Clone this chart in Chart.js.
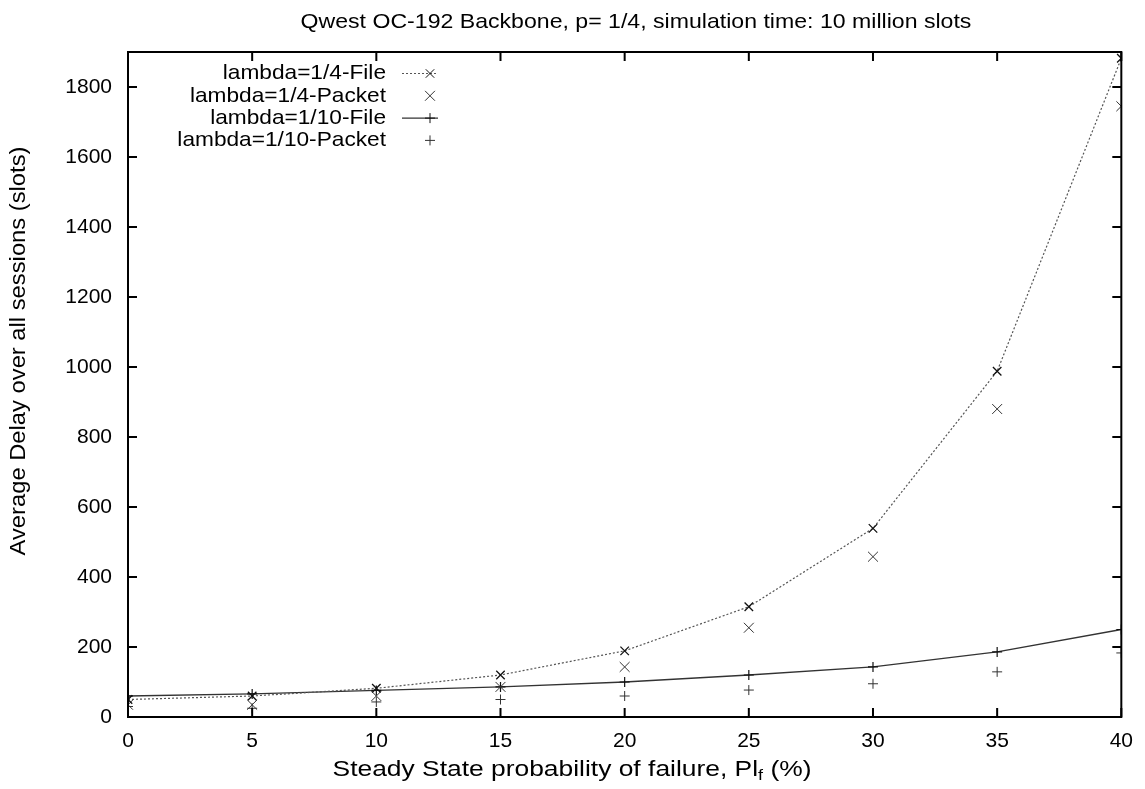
<!DOCTYPE html>
<html>
<head>
<meta charset="utf-8">
<script src="https://cdn.jsdelivr.net/npm/chart.js@4/dist/chart.umd.min.js"></script>
<style>
  html, body { margin: 0; padding: 0; background: #fff; }
  #wrap { width: 1145px; height: 789px; }
</style>
</head>
<body>
<div id="wrap"><canvas id="delayChart" width="1145" height="789"></canvas></div>
<script>
// failure probability (%) on x axis
const failureProb = [0, 5, 10, 15, 20, 25, 30, 35, 40];

// average delay (slots)
const quarterFile = [50, 60, 82, 120, 189, 315, 539, 988, 1882];
const quarterPacket = [35, 35, 60, 86, 143, 255, 458, 880, 1745];
const tenthFile = [60, 66, 76, 86, 100, 120, 143, 186, 250];
const tenthPacket = [30, 25, 43, 50, 60, 77, 95, 129, 183];

const seriesNames = ['lambda=1/4-File', 'lambda=1/4-Packet', 'lambda=1/10-File', 'lambda=1/10-Packet'];
const xTicks = [0, 5, 10, 15, 20, 25, 30, 35, 40];
const yTicks = [0, 200, 400, 600, 800, 1000, 1200, 1400, 1600, 1800];

const FONT = '"Liberation Sans", Arial, Helvetica, sans-serif';

function toPoints(values) {
    return failureProb.map((x, i) => ({ x: x, y: values[i] }));
}

// text stretched a little, the scan is a bit wider than Liberation
function wideText(ctx, text, x, y, stretch) {
    ctx.save();
    ctx.translate(x, y);
    ctx.scale(stretch, 1);
    ctx.fillText(text, 0, 0);
    ctx.restore();
}

// frame, inward ticks, titles and legend, like the gnuplot original
const framePlugin = {
    id: 'frame',
    afterDraw(chart) {
        const ctx = chart.ctx;
        const area = chart.chartArea;
        const xs = chart.scales.x;
        const ys = chart.scales.y;
        ctx.save();

        // box
        ctx.strokeStyle = '#000';
        ctx.lineWidth = 2;
        ctx.strokeRect(area.left, area.top, area.right - area.left, area.bottom - area.top);

        // ticks on all four sides
        const tl = 9;
        ctx.beginPath();
        xTicks.forEach(v => {
            const px = xs.getPixelForValue(v);
            ctx.moveTo(px, area.bottom); ctx.lineTo(px, area.bottom - tl);
            ctx.moveTo(px, area.top); ctx.lineTo(px, area.top + tl);
        });
        yTicks.forEach(v => {
            const py = ys.getPixelForValue(v);
            ctx.moveTo(area.left, py); ctx.lineTo(area.left + tl, py);
            ctx.moveTo(area.right, py); ctx.lineTo(area.right - tl, py);
        });
        ctx.stroke();

        // chart title
        ctx.fillStyle = '#000';
        ctx.font = '21px ' + FONT;
        ctx.textAlign = 'center';
        ctx.textBaseline = 'middle';
        wideText(ctx, 'Qwest OC-192 Backbone, p= 1/4, simulation time: 10 million slots', 636, 22, 1.1);

        // x axis title with subscript f
        const st = 1.2;
        const part1 = 'Steady State probability of failure, Pl';
        const part3 = ' (%)';
        ctx.font = '22px ' + FONT;
        const w1 = ctx.measureText(part1).width * st;
        const w3 = ctx.measureText(part3).width * st;
        ctx.font = '15px ' + FONT;
        const w2 = ctx.measureText('f').width * st;
        const sx = 572 - (w1 + w2 + w3) / 2;
        ctx.textAlign = 'left';
        ctx.font = '22px ' + FONT;
        wideText(ctx, part1, sx, 770, st);
        ctx.font = '15px ' + FONT;
        wideText(ctx, 'f', sx + w1, 776, st);
        ctx.font = '22px ' + FONT;
        wideText(ctx, part3, sx + w1 + w2, 770, st);

        // y axis title
        ctx.save();
        ctx.translate(19, 351);
        ctx.rotate(-Math.PI / 2);
        ctx.textAlign = 'center';
        ctx.font = '22px ' + FONT;
        wideText(ctx, 'Average Delay over all sessions (slots)', 0, 0, 1.08);
        ctx.restore();

        // legend inside the plot
        chart.data.datasets.forEach((ds, i) => {
            const ly = 73.5 + i * 22.3;
            ctx.font = '21px ' + FONT;
            ctx.textAlign = 'right';
            ctx.fillStyle = '#000';
            wideText(ctx, ds.label, 386, ly, 1.08);
            if (ds.showLine) {
                ctx.strokeStyle = ds.borderColor;
                ctx.lineWidth = ds.borderWidth;
                ctx.setLineDash(ds.borderDash || []);
                ctx.beginPath();
                ctx.moveTo(402, ly); ctx.lineTo(438, ly);
                ctx.stroke();
                ctx.setLineDash([]);
            }
            ctx.strokeStyle = ds.pointBorderColor;
            ctx.lineWidth = 1;
            Chart.helpers.drawPoint(ctx, {
                pointStyle: ds.pointStyle, radius: ds.pointRadius, rotation: 0, borderWidth: 1
            }, 430, ly);
        });

        ctx.restore();
    }
};

const ctx = document.getElementById('delayChart').getContext('2d');
new Chart(ctx, {
    type: 'scatter',
    data: {
        datasets: [
            {
                label: seriesNames[0], data: toPoints(quarterFile), showLine: true,
                borderColor: '#555', borderWidth: 1.2, borderDash: [2, 2],
                pointStyle: 'crossRot', pointRadius: 6, pointBorderColor: '#111', pointBorderWidth: 1.3
            },
            {
                label: seriesNames[1], data: toPoints(quarterPacket), showLine: false,
                borderColor: '#444', pointStyle: 'crossRot', pointRadius: 7,
                pointBorderColor: '#333', pointBorderWidth: 1
            },
            {
                label: seriesNames[2], data: toPoints(tenthFile), showLine: true,
                borderColor: '#333', borderWidth: 1.3,
                pointStyle: 'cross', pointRadius: 5, pointBorderColor: '#111', pointBorderWidth: 1.2
            },
            {
                label: seriesNames[3], data: toPoints(tenthPacket), showLine: false,
                borderColor: '#444', pointStyle: 'cross', pointRadius: 5,
                pointBorderColor: '#333', pointBorderWidth: 1
            }
        ]
    },
    options: {
        responsive: false,
        animation: false,
        layout: { padding: { top: 52, right: 19, left: 0, bottom: 0 } },
        plugins: {
            legend: { display: false },
            tooltip: { enabled: false }
        },
        scales: {
            x: {
                type: 'linear', min: 0, max: 40,
                grid: { display: false, drawTicks: false },
                border: { display: false },
                ticks: {
                    stepSize: 5, padding: 12, color: '#000', font: { size: 21, family: FONT },
                    callback: v => String(v)
                },
                afterFit(scale) { scale.height = 72; }
            },
            y: {
                type: 'linear', min: 0, max: 1900,
                grid: { display: false, drawTicks: false },
                border: { display: false },
                ticks: {
                    stepSize: 200, padding: 16, color: '#000', font: { size: 21, family: FONT },
                    callback: v => String(v)
                },
                afterBuildTicks(scale) { scale.ticks = scale.ticks.filter(t => t.value % 200 === 0); },
                afterFit(scale) { scale.width = 128; }
            }
        }
    },
    plugins: [framePlugin]
});
</script>
</body>
</html>
